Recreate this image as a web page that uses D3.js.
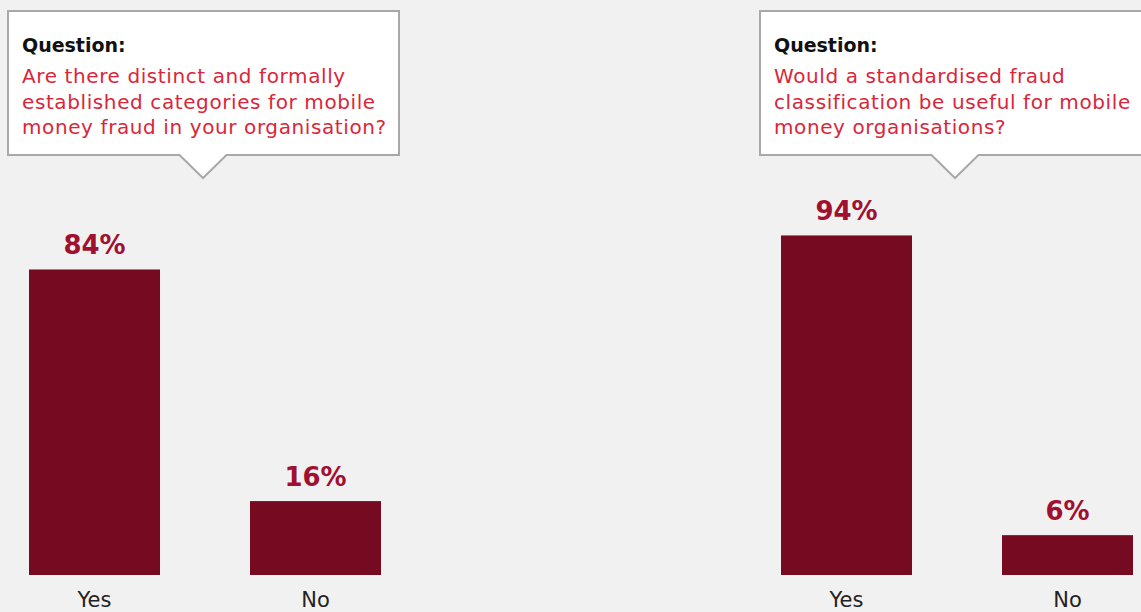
<!DOCTYPE html>
<html>
<head>
<meta charset="utf-8">
<script src="https://cdn.jsdelivr.net/npm/d3@7"></script>
<style>
  html, body { margin: 0; padding: 0; background: #f1f1f1; }
  svg { display: block; }
</style>
</head>
<body>
<svg id="chart" width="1141" height="612"></svg>
<script>
// Survey answers: two yes/no questions
const categories = ["Yes", "No"];
const questionTitle = "Question:";
const questionLeft = [
  "Are there distinct and formally",
  "established categories for mobile",
  "money fraud in your organisation?"
];
const questionRight = [
  "Would a standardised fraud",
  "classification be useful for mobile",
  "money organisations?"
];
const valuesLeft = [84, 16];
const valuesRight = [94, 6];

const W = 1141, H = 612;
const svg = d3.select("#chart");

const barColor = "#760a21";
const valueColor = "#a01030";
const questionColor = "#d9263a";
const fontFamily = "'DejaVu Sans', sans-serif";

// Shared vertical scale for both panels
const y = d3.scaleLinear().domain([-5.7, 100]).range([575, 215]);

const panels = [
  { offset: 0, lines: questionLeft, values: valuesLeft },
  { offset: 752, lines: questionRight, values: valuesRight }
];

panels.forEach(p => {
  const g = svg.append("g").attr("transform", `translate(${p.offset},0)`);

  // Callout box with a pointer underneath
  const bx0 = 8, bx1 = 399, by0 = 11, by1 = 155;
  const tipX = 203, tipHalf = 23.5, tipY = 178;
  const outline = d3.path();
  outline.moveTo(bx0, by0);
  outline.lineTo(bx1, by0);
  outline.lineTo(bx1, by1);
  outline.lineTo(tipX + tipHalf, by1);
  outline.lineTo(tipX, tipY);
  outline.lineTo(tipX - tipHalf, by1);
  outline.lineTo(bx0, by1);
  outline.closePath();
  g.append("path")
    .attr("d", outline.toString())
    .attr("fill", "#ffffff")
    .attr("stroke", "#a8a8a8")
    .attr("stroke-width", 2);

  g.append("text")
    .attr("x", 22).attr("y", 52)
    .attr("font-family", fontFamily)
    .attr("font-weight", "bold")
    .attr("font-size", 19)
    .attr("fill", "#111")
    .text(questionTitle);

  g.append("text")
    .attr("font-family", fontFamily)
    .attr("font-size", 20)
    .attr("letter-spacing", 0.6)
    .attr("fill", questionColor)
    .selectAll("tspan")
    .data(p.lines)
    .join("tspan")
    .attr("x", 22)
    .attr("y", (d, i) => 83 + i * 25.5)
    .text(d => d);

  // Bars
  const x = d3.scaleBand().domain(categories).range([29, 381]).paddingInner(90 / 221).paddingOuter(0);
  const data = categories.map((c, i) => ({ c, v: p.values[i] }));

  g.selectAll("rect.bar")
    .data(data)
    .join("rect")
    .attr("class", "bar")
    .attr("x", d => x(d.c))
    .attr("width", x.bandwidth())
    .attr("y", d => y(d.v))
    .attr("height", d => y.range()[0] - y(d.v))
    .attr("fill", barColor);

  g.selectAll("text.value")
    .data(data)
    .join("text")
    .attr("class", "value")
    .attr("x", d => x(d.c) + x.bandwidth() / 2)
    .attr("y", d => y(d.v) - 15)
    .attr("text-anchor", "middle")
    .attr("font-family", fontFamily)
    .attr("font-weight", "bold")
    .attr("font-size", 26)
    .attr("fill", valueColor)
    .text(d => d.v + "%");

  // Category axis labels
  const axis = d3.axisBottom(x).tickSize(0).tickPadding(0);
  const ax = g.append("g").attr("transform", "translate(0,591)").call(axis);
  ax.select(".domain").remove();
  ax.selectAll("text")
    .attr("dy", 0)
    .attr("y", 15.5)
    .attr("font-family", fontFamily)
    .attr("font-size", 21)
    .attr("fill", "#222");
});
</script>
</body>
</html>
